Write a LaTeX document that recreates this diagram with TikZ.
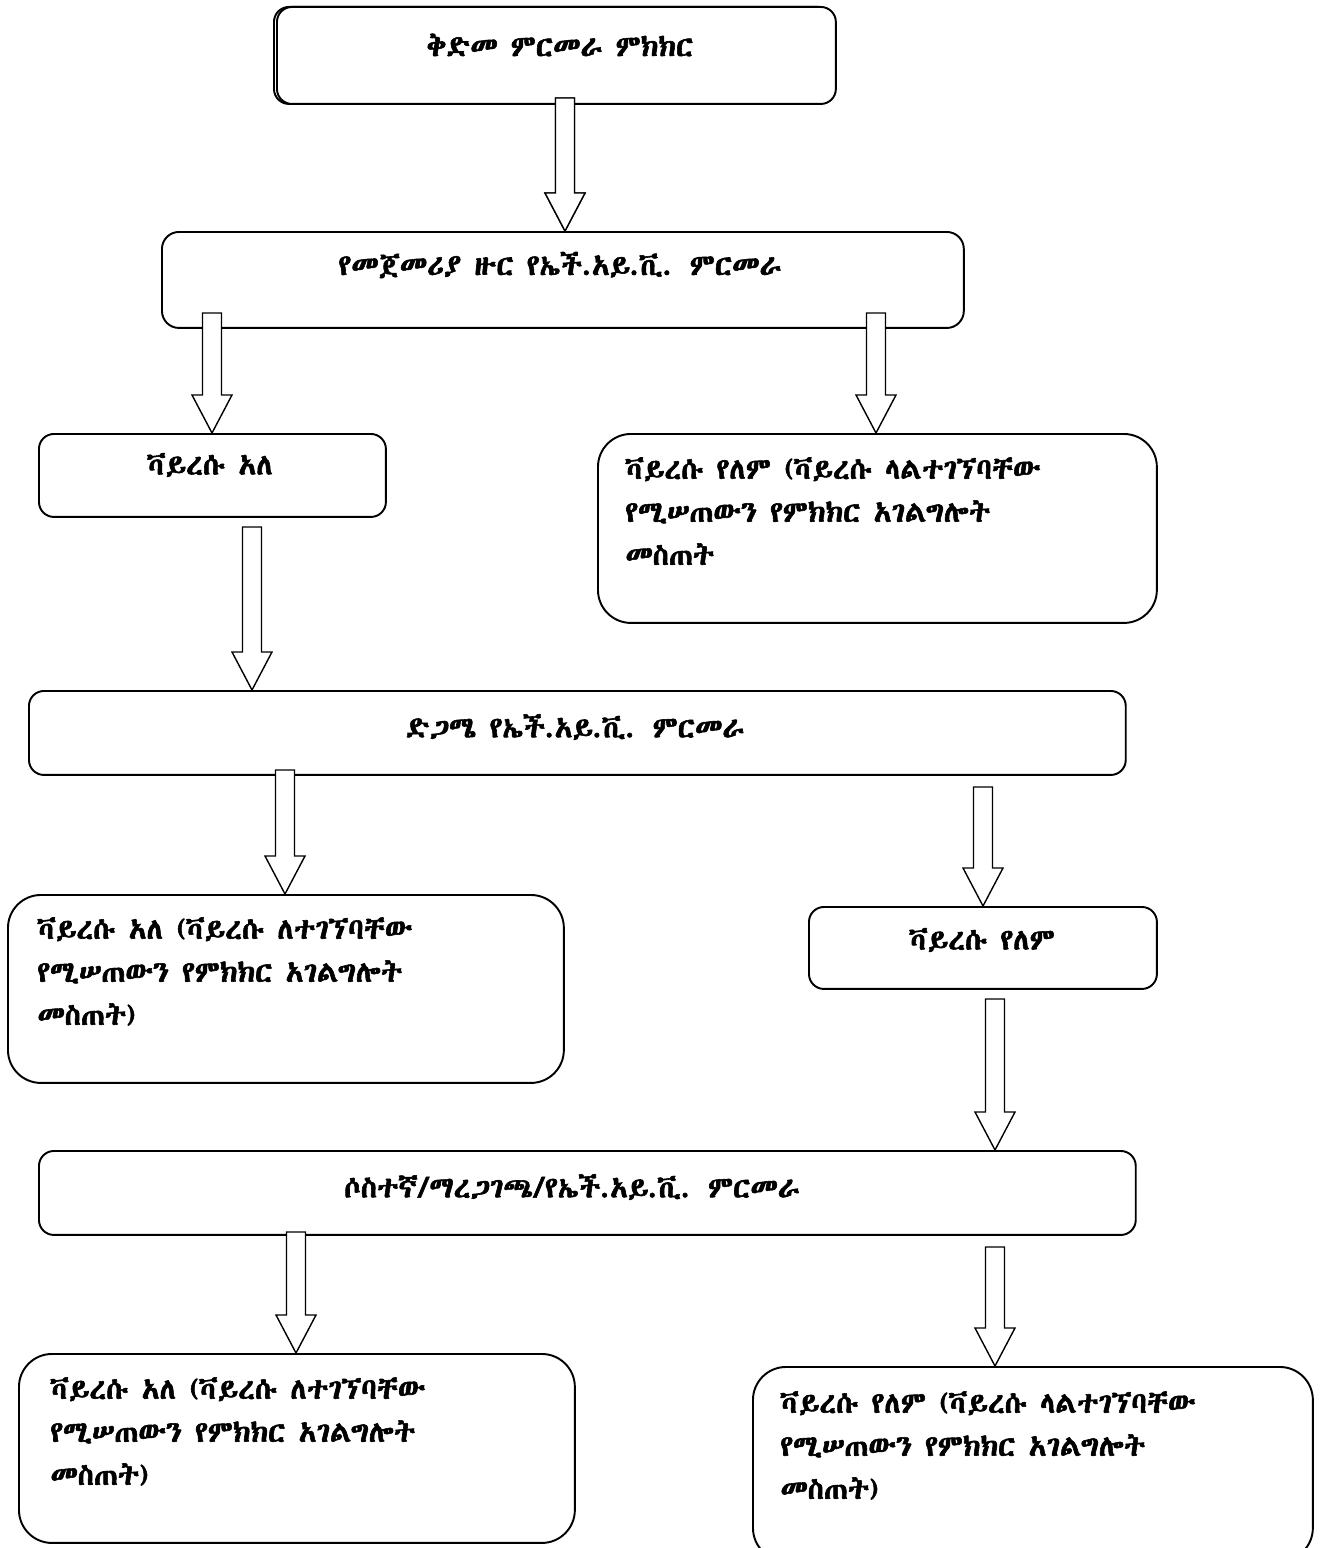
\documentclass[tikz,border=0pt]{standalone}
\usepackage{fontspec}
\usetikzlibrary{calc}

\newfontfamily\ethfont[AutoFakeBold=2]{Abyssinica SIL}

\tikzset{
  flowbox/.style={draw, fill=white, line width=1.1pt, rounded corners=#1, inner sep=0pt, anchor=north west},
  boxlabel/.style={font=\ethfont\bfseries\fontsize{16.7}{24.5}\selectfont, inner sep=0pt, align=left},
  arrowline/.style={draw, fill=white, line width=0.8pt, line join=miter},
}

% hollow block arrow from a coordinate straight down to a node
\newcommand\hollowarrow[3][]{%
  \draw[arrowline,#1] let \p1=(#2), \p2=(#2 |- #3) in
    (\x1-0.19cm,\y1) -- (\x1+0.19cm,\y1) -- (\x1+0.19cm,\y2+0.76cm) -- (\x1+0.4cm,\y2+0.76cm)
    -- (\x1,\y2) -- (\x1-0.4cm,\y2+0.76cm) -- (\x1-0.19cm,\y2+0.76cm) -- cycle;}

\begin{document}
\begin{tikzpicture}[x=0.02cm, y=-0.02cm]
  \useasboundingbox (0,0) rectangle (1319,1548);

  % boxes
  \node[flowbox=0.3cm, minimum width=11.18cm, minimum height=1.94cm, xshift=-0.06cm] (pretestshadow) at (276,6) {};
  \node[flowbox=0.3cm, minimum width=11.18cm, minimum height=1.94cm] (pretest) at (276,6) {};
  \node[flowbox=0.34cm, minimum width=16.04cm, minimum height=1.92cm] (firsttest) at (161,231) {};
  \node[flowbox=0.3cm, minimum width=6.94cm, minimum height=1.66cm] (firstpos) at (38,433) {};
  \node[flowbox=0.66cm, minimum width=11.18cm, minimum height=3.78cm] (firstneg) at (597,433) {};
  \node[flowbox=0.3cm, minimum width=21.94cm, minimum height=1.68cm] (secondtest) at (28,690) {};
  \node[flowbox=0.66cm, minimum width=11.12cm, minimum height=3.76cm] (secondpos) at (7,894) {};
  \node[flowbox=0.3cm, minimum width=6.96cm, minimum height=1.64cm] (secondneg) at (808,906) {};
  \node[flowbox=0.3cm, minimum width=21.94cm, minimum height=1.68cm] (thirdtest) at (38,1150) {};
  \node[flowbox=0.66cm, minimum width=11.12cm, minimum height=3.78cm] (thirdpos) at (18,1353) {};
  \node[flowbox=0.66cm, minimum width=11.2cm, minimum height=3.88cm] (thirdneg) at (752,1366) {};

  % texts
  \node[boxlabel] (pretesttext) at (560,45) {ቅድመ ምርመራ ምክክር};
  \node[boxlabel] (firsttesttext) at (560,265) {የመጀመሪያ ዙር የኤች.አይ.ቪ. ምርመራ};
  \node[boxlabel] (firstpostext) at (210,465) {ቫይረሱ አለ};
  \node[boxlabel, anchor=north west] (firstnegtext) at (625,457) {ቫይረሱ የለም (ቫይረሱ ላልተገኘባቸው\\የሚሠጠውን የምክክር አገልግሎት\\መስጠት};
  \node[boxlabel] (secondtesttext) at (575,727) {ድጋሜ የኤች.አይ.ቪ. ምርመራ};
  \node[boxlabel, anchor=north west] (secondpostext) at (37,917) {ቫይረሱ አለ (ቫይረሱ ለተገኘባቸው\\የሚሠጠውን የምክክር አገልግሎት\\መስጠት)};
  \node[boxlabel] (secondnegtext) at (982,940) {ቫይረሱ የለም};
  \node[boxlabel] (thirdtesttext) at (572,1187) {ሶስተኛ/ማረጋገጫ/የኤች.አይ.ቪ. ምርመራ};
  \node[boxlabel, anchor=north west] (thirdpostext) at (50,1377) {ቫይረሱ አለ (ቫይረሱ ለተገኘባቸው\\የሚሠጠውን የምክክር አገልግሎት\\መስጠት)};
  \node[boxlabel, anchor=north west] (thirdnegtext) at (780,1391) {ቫይረሱ የለም (ቫይረሱ ላልተገኘባቸው\\የሚሠጠውን የምክክር አገልግሎት\\መስጠት)};

  % arrow starts
  \coordinate (a1s) at (565,98);
  \coordinate (a2s) at (212,313);
  \coordinate (a3s) at (876,313);
  \coordinate (a4s) at (252,527);
  \coordinate (a5s) at (285,770);
  \coordinate (a6s) at (983,787);
  \coordinate (a7s) at (995,999);
  \coordinate (a8s) at (296,1232);
  \coordinate (a9s) at (995,1247);

  % arrows
  \hollowarrow[xshift=-0.06cm]{a1s}{firsttest.north}
  \hollowarrow{a1s}{firsttest.north}
  \hollowarrow{a2s}{firstpos.north}
  \hollowarrow{a3s}{firstneg.north}
  \hollowarrow{a4s}{secondtest.north}
  \hollowarrow{a5s}{secondpos.north}
  \hollowarrow{a6s}{secondneg.north}
  \hollowarrow{a7s}{thirdtest.north}
  \hollowarrow{a8s}{thirdpos.north}
  \hollowarrow{a9s}{thirdneg.north}
\end{tikzpicture}
\end{document}
